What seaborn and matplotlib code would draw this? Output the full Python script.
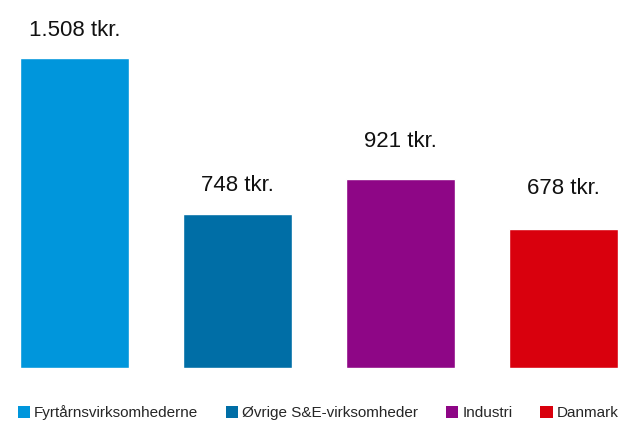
import matplotlib
matplotlib.use("Agg")
import matplotlib.pyplot as plt
from matplotlib.patches import Patch
import seaborn as sns
import pandas as pd

# Gennemsnitlig værdi pr. virksomhed (tkr.)
categories = ["Fyrtårnsvirksomhederne", "Øvrige S&E-virksomheder", "Industri", "Danmark"]
values = [1508, 748, 921, 678]
value_labels = ["1.508 tkr.", "748 tkr.", "921 tkr.", "678 tkr."]
colors = ["#0096DC", "#006EA6", "#8E0686", "#D9000D"]

sns.set_theme(style="white")
plt.rcParams["font.family"] = ["Liberation Sans", "DejaVu Sans"]

df = pd.DataFrame({"kategori": categories, "værdi": values})

W, H = 619, 421
fig = plt.figure(figsize=(W / 100, H / 100), dpi=100)
# plot area: from the left edge of the first bar to the right edge of the last bar
ax = fig.add_axes([20 / W, (H - 368) / H, (618 - 20) / W, 368 / H])

bar_w = 0.67
sns.barplot(data=df, x="kategori", y="værdi", hue="kategori", palette=colors,
            width=bar_w, dodge=False, legend=False, saturation=1, ax=ax)

ax.set_xlim(-bar_w / 2, len(categories) - 1 + bar_w / 2)
ax.set_ylim(0, 1508 * 368 / 310)
ax.set_axis_off()

# gap between bar top and label baseline, in points
label_gap = [15.5, 16.5, 23.0, 25.0]
for i, (v, lab) in enumerate(zip(values, value_labels)):
    ax.annotate(lab, xy=(i, v), xytext=(0, label_gap[i]), textcoords="offset points",
                ha="center", va="baseline", fontsize=16, color="#111111")

handles = [Patch(facecolor=c, edgecolor="none") for c in colors]
fig.legend(handles, categories, loc="center", bbox_to_anchor=(318 / W, 1 - 413 / H),
           ncol=4, frameon=False, fontsize=11, handlelength=0.8, handleheight=0.8,
           handletextpad=0.25, columnspacing=1.84, borderaxespad=0, borderpad=0)

fig.savefig("out.png", dpi=100, facecolor="white")
